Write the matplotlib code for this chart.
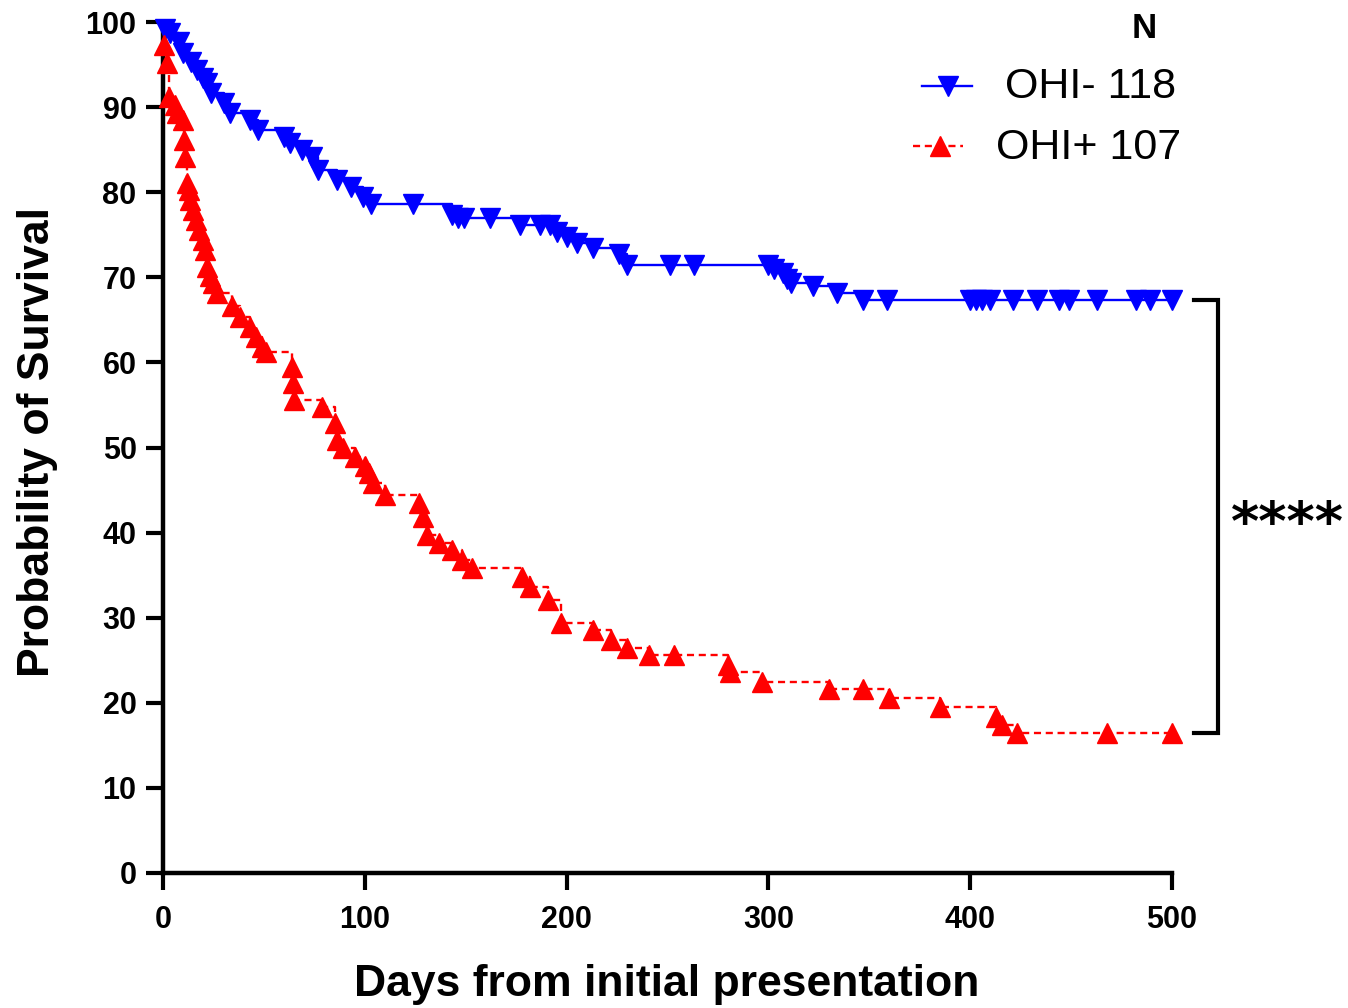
import matplotlib
matplotlib.use("Agg")
import matplotlib.pyplot as plt
from matplotlib.lines import Line2D

plt.rcParams['font.family'] = ['Liberation Sans', 'DejaVu Sans']

# OHI- (blue) Kaplan-Meier step points: days, survival %
blue_days = [0, 1, 3.5, 8, 10, 14, 17, 20, 22, 24, 30, 33, 43, 47, 60, 63, 69, 74, 77,
             86, 93, 99, 103, 124, 143, 146, 149, 162, 177, 187, 192, 195, 200, 205,
             213, 226, 230, 251, 263, 300, 303, 307, 309, 311, 322, 334, 347, 359,
             400, 403, 406, 410, 421, 433, 444, 449, 463, 482, 489, 500]
blue_surv = [100, 99.2, 98.7, 97.6, 96.4, 95.3, 94.4, 93.4, 92.8, 91.7, 90.5, 89.3, 88.5,
             87.3, 86.5, 85.8, 85.0, 84.1, 82.6, 81.4, 80.6, 79.4, 78.6, 78.6, 77.3,
             77.0, 77.0, 77.0, 76.1, 76.1, 76.1, 75.3, 74.7, 74.0, 73.4, 72.7, 71.4,
             71.4, 71.4, 71.4, 71.0, 70.5, 69.8, 69.3, 69.0, 68.2, 67.3, 67.3,
             67.3, 67.3, 67.3, 67.3, 67.3, 67.3, 67.3, 67.3, 67.3, 67.3, 67.3, 67.3]

# OHI+ (red) Kaplan-Meier step points: days, survival %
red_days = [0, 0.5, 2, 3, 6, 7, 10, 10.5, 11, 12, 13, 13.5, 15, 16.5, 18, 20, 21, 22,
            23.5, 25, 27, 34, 38, 43, 46, 49, 51, 64, 64.5, 65, 79, 85, 86, 89, 95,
            100, 102, 104, 110, 127, 129, 131, 137, 143, 148, 153, 178, 182, 191, 197,
            213, 222, 230, 241, 253, 280, 281, 297, 330, 347, 360, 385, 413, 416,
            423, 468, 500]
red_surv = [100, 97.3, 95.2, 91.2, 90.3, 89.3, 88.5, 86.1, 84.1, 81.1, 80.2, 79.1, 77.9,
            76.7, 75.6, 74.4, 73.2, 71.2, 70.2, 69.3, 68.2, 66.6, 65.3, 64.2, 63.0,
            61.8, 61.2, 59.5, 57.6, 55.6, 54.8, 52.9, 50.9, 49.9, 48.9, 47.8, 47.0,
            45.8, 44.4, 43.5, 41.8, 39.7, 38.8, 38.0, 36.8, 35.8, 34.8, 33.6, 32.1,
            29.4, 28.5, 27.4, 26.4, 25.6, 25.6, 24.4, 23.6, 22.5, 21.6, 21.6, 20.6,
            19.5, 18.3, 17.4, 16.5, 16.5, 16.5]

group_labels = ["OHI- 118", "OHI+ 107"]
x_ticks = [0, 100, 200, 300, 400, 500]
y_ticks = [0, 10, 20, 30, 40, 50, 60, 70, 80, 90, 100]

W, H = 1348, 1008
fig = plt.figure(figsize=(W / 100, H / 100), dpi=100)
ax = fig.add_axes([163 / W, 1 - 873 / H, (1172 - 163) / W, (873 - 22) / H])

BLUE, RED = '#0000FF', '#FF0000'
MS = 14
ax.plot(blue_days, blue_surv, drawstyle='steps-post', color=BLUE, lw=1.7,
        clip_on=False, zorder=3)
ax.plot(blue_days[1:], blue_surv[1:], ls='none', marker='v', ms=MS, color=BLUE,
        clip_on=False, zorder=4)
ax.plot(red_days, red_surv, drawstyle='steps-post', color=RED, lw=1.7,
        ls=(0, (3, 2)), clip_on=False, zorder=3)
ax.plot(red_days[1:], red_surv[1:], ls='none', marker='^', ms=MS, color=RED,
        clip_on=False, zorder=4)

ax.set_xlim(0, 500)
ax.set_ylim(0, 100)
ax.set_xticks(x_ticks)
ax.set_yticks(y_ticks)
for s in ['top', 'right']:
    ax.spines[s].set_visible(False)
for s in ['left', 'bottom']:
    ax.spines[s].set_linewidth(3.2)
ax.tick_params(axis='both', direction='out', length=12, width=3.0, labelsize=22)
ax.tick_params(axis='x', pad=11)
ax.tick_params(axis='y', pad=7)
for lbl in ax.get_xticklabels() + ax.get_yticklabels():
    lbl.set_fontweight('bold')

# axis titles
fig.text(667 / W, 1 - 996 / H, "Days from initial presentation", fontsize=32,
         fontweight='bold', ha='center', va='baseline')
fig.text(38 / W, 1 - 442 / H, "Probability of Survival", fontsize=32,
         fontweight='bold', ha='center', va='center', rotation=90)

# significance bracket
bx0, bx1 = 511, 523
ytop, ybot = blue_surv[-1], red_surv[-1]
ax.plot([bx0, bx1, bx1, bx0], [ytop, ytop, ybot, ybot], color='black', lw=3.0,
        clip_on=False, solid_joinstyle='miter')
fig.text(1287 / W, 1 - 540 / H, "****", fontsize=39, fontweight='bold',
         family='DejaVu Sans', ha='center', va='baseline')

# legend (manual)
fig.text(1144 / W, 1 - 38 / H, "N", fontsize=25, fontweight='bold',
         ha='center', va='baseline')
fig.add_artist(Line2D([922 / W, 972 / W], [1 - 86 / H] * 2, color=BLUE,
                      lw=1.7, transform=fig.transFigure))
fig.add_artist(Line2D([948 / W], [1 - 86 / H], marker='v', ms=MS, color=BLUE,
                      ls='none', transform=fig.transFigure))
fig.add_artist(Line2D([913 / W, 963 / W], [1 - 146 / H] * 2, color=RED,
                      lw=1.7, ls=(0, (3, 2)), transform=fig.transFigure))
fig.add_artist(Line2D([940 / W], [1 - 146 / H], marker='^', ms=MS, color=RED,
                      ls='none', transform=fig.transFigure))
fig.text(1176 / W, 1 - 98 / H, group_labels[0], fontsize=31, ha='right', va='baseline')
fig.text(1181 / W, 1 - 159 / H, group_labels[1], fontsize=31, ha='right', va='baseline')

fig.savefig("out.png", dpi=100)
